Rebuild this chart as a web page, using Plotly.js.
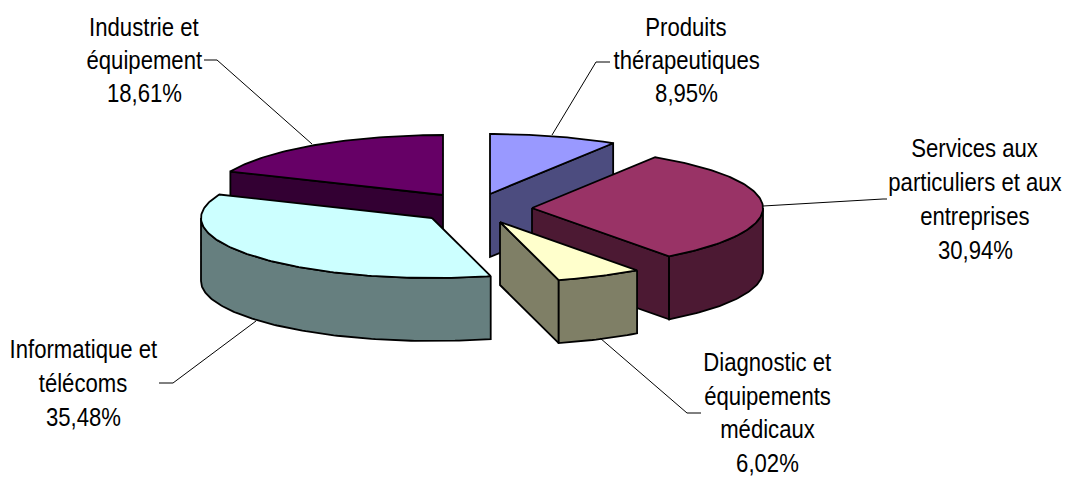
<!DOCTYPE html>
<html>
<head>
<meta charset="utf-8">
<script src="https://cdn.plot.ly/plotly-3.0.1.min.js"></script>
<style>html,body{margin:0;padding:0;background:#fff}#c{width:1069px;height:478px}</style>
</head>
<body>
<div id="c"></div>
<script>
// clockwise from 12 o'clock
const categories = ["Produits thérapeutiques","Services aux particuliers et aux entreprises","Diagnostic et équipements médicaux","Informatique et télécoms","Industrie et équipement"];
const shares = [8.95,30.94,6.02,35.48,18.61];
const topColors = ["#9999FF","#993366","#FFFFCC","#CCFFFF","#660066"];
const wallColors = ["#4C4C7F","#4C1933","#7F7F66","#667F7F","#330033"];
const labelLines = [
  ["Produits","thérapeutiques","8,95%"],
  ["Services aux","particuliers et aux","entreprises","30,94%"],
  ["Diagnostic et","équipements","médicaux","6,02%"],
  ["Informatique et","télécoms","35,48%"],
  ["Industrie et","équipement","18,61%"]
];

// layout geometry (pixels)
const apexes = [[490,194],[532,208],[500,222],[432,218],[443,195]];
const paintOrder = [4,0,1,3,2];
const labelCenters = [686,975,767,83,144];
const labelFirstY = [27,148,362,349,27];
const lineGap = [33,34,33.5,34,33];
const leaders = [
  [[610,62],[596,62],[552,135]],
  [[763,206],[883,199],[887,199]],
  [[600,338],[687,413],[701,413]],
  [[159,383],[173,383],[256,321]],
  [[204,60],[217,60],[312,144]]
];
const RX=231, RY=60, DEPTH=63, TEXT_SQUEEZE=0.885;

const rad=d=>d*Math.PI/180;
function pt(i,t,z){return [apexes[i][0]+RX*Math.sin(rad(t)), apexes[i][1]-RY*Math.cos(rad(t))+z];}
function arc(i,a,b,z){const out=[];const n=Math.max(2,Math.ceil(Math.abs(b-a)));for(let k=0;k<=n;k++)out.push(pt(i,a+(b-a)*k/n,z));return out;}
function poly(points,fill,w){
  const x=points.map(p=>p[0]),y=points.map(p=>p[1]);
  x.push(x[0]);y.push(y[0]);
  return {type:"scatter",mode:"lines",x,y,fill:"toself",fillcolor:fill,line:{color:"#000",width:w||1.8},hoverinfo:"skip",showlegend:false};
}
const angles=[];let acc=0;shares.forEach(v=>{angles.push([acc*3.6,(acc+v)*3.6]);acc+=v;});

const traces=[];
paintOrder.forEach(i=>{
  const [a0,a1]=angles[i];
  const ap=apexes[i];
  const wall=wallColors[i];
  if(Math.sin(rad(a0))<0){
    const p=pt(i,a0,0),q=pt(i,a0,DEPTH);
    traces.push(poly([[ap[0],ap[1]],p,q,[ap[0],ap[1]+DEPTH]],wall));
  }
  if(Math.sin(rad(a1))>0){
    const p=pt(i,a1,0),q=pt(i,a1,DEPTH);
    traces.push(poly([[ap[0],ap[1]],p,q,[ap[0],ap[1]+DEPTH]],wall));
  }
  const f0=Math.max(a0,90),f1=Math.min(a1,270);
  if(f1>f0){
    traces.push(poly(arc(i,f0,f1,0).concat(arc(i,f1,f0,DEPTH)),wall));
  }
  traces.push(poly([[ap[0],ap[1]]].concat(arc(i,a0,a1,0)),topColors[i]));
});

const annotations=[];
labelLines.forEach((lines,i)=>lines.forEach((txt,j)=>annotations.push({
  text:txt,x:labelCenters[i],y:labelFirstY[i]+j*lineGap[i],xref:"x",yref:"y",showarrow:false,
  xanchor:"center",yanchor:"middle",font:{family:"'Liberation Sans',Arial,sans-serif",size:25,color:"#000"}
})));
const shapes=[];
leaders.forEach(l=>{for(let k=0;k<l.length-1;k++)shapes.push({type:"line",xref:"x",yref:"y",x0:l[k][0],y0:l[k][1],x1:l[k+1][0],y1:l[k+1][1],line:{color:"#000",width:1}});});

Plotly.newPlot("c",traces,{
  width:1069,height:478,margin:{l:0,r:0,t:0,b:0},paper_bgcolor:"#fff",plot_bgcolor:"#fff",showlegend:false,
  xaxis:{range:[0,1069],visible:false,fixedrange:true},
  yaxis:{range:[478,0],visible:false,fixedrange:true},
  annotations,shapes,hovermode:false
},{displayModeBar:false,staticPlot:true}).then(gd=>{
  // the reference uses a condensed face: squeeze glyphs horizontally, keeping real text
  gd.querySelectorAll(".annotation-text").forEach(t=>{
    const w=t.getComputedTextLength();
    t.setAttribute("textLength",(w*TEXT_SQUEEZE).toFixed(1));
    t.setAttribute("lengthAdjust","spacingAndGlyphs");
  });
});
</script>
</body>
</html>
